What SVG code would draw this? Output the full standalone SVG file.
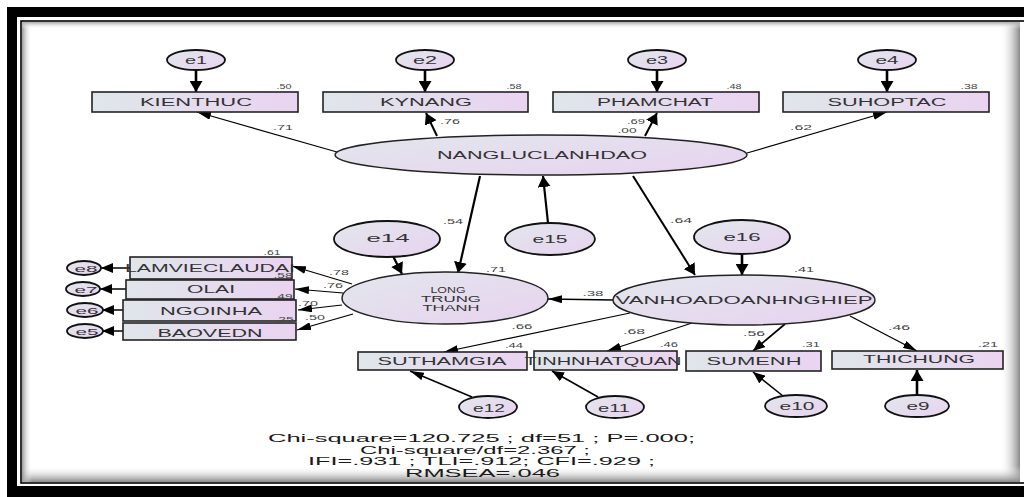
<svg xmlns="http://www.w3.org/2000/svg" width="1024" height="497" viewBox="0 0 1024 497">
<defs>
<linearGradient id="gb" x1="0" y1="0" x2="1" y2="0"><stop offset="0" stop-color="#dfe6ea"/><stop offset="1" stop-color="#ead3f1"/></linearGradient>
<linearGradient id="ge" x1="0" y1="0" x2="1" y2="1"><stop offset="0" stop-color="#e2e7ec"/><stop offset="1" stop-color="#e8d2f0"/></linearGradient>
<linearGradient id="shR" x1="0" y1="0" x2="1" y2="0"><stop offset="0" stop-color="#fff" stop-opacity="0"/><stop offset="1" stop-color="#888"/></linearGradient>
<linearGradient id="shB" x1="0" y1="0" x2="0" y2="1"><stop offset="0" stop-color="#fff" stop-opacity="0"/><stop offset="1" stop-color="#888"/></linearGradient>
<linearGradient id="shL" x1="0" y1="0" x2="1" y2="0"><stop offset="0" stop-color="#999"/><stop offset="1" stop-color="#fff" stop-opacity="0"/></linearGradient>
<linearGradient id="shT" x1="0" y1="0" x2="0" y2="1"><stop offset="0" stop-color="#aaa"/><stop offset="1" stop-color="#fff" stop-opacity="0"/></linearGradient>
<marker id="ah" viewBox="0 0 11 13" refX="11" refY="6.5" markerWidth="11" markerHeight="13" markerUnits="userSpaceOnUse" orient="auto"><path d="M0,0 L11,6.5 L0,13 z" fill="#000"/></marker>
<marker id="ahs" viewBox="0 0 14 8" refX="14" refY="4" markerWidth="14" markerHeight="8" markerUnits="userSpaceOnUse" orient="auto"><path d="M0,0 L14,4 L0,8 z" fill="#000"/></marker>
<marker id="ahm" viewBox="0 0 12 10" refX="12" refY="5" markerWidth="12" markerHeight="10" markerUnits="userSpaceOnUse" orient="auto"><path d="M0,0 L12,5 L0,10 z" fill="#000"/></marker>
<style>
.box{fill:url(#gb);stroke:#222;stroke-width:1.6}
.ell{fill:url(#ge);stroke:#222;stroke-width:1.5}
.err{fill:url(#ge);stroke:#111;stroke-width:1.8}
.t{font-family:"Liberation Sans",Arial,sans-serif;fill:#333;text-anchor:middle}
.lb{font-size:10px}
.el{font-size:10.5px}
.n{font-family:"Liberation Sans",Arial,sans-serif;fill:#444;font-size:8px;text-anchor:middle}
.st{font-family:"Liberation Sans",Arial,sans-serif;fill:#1a1a1a;font-size:11px;text-anchor:middle}
.c line{stroke:#000;fill:none}
</style>
</defs>
<g id="frame">
<rect x="7" y="7" width="1040" height="510" fill="#000"/>
<rect x="17" y="17" width="1030" height="469" fill="#fff"/>
<rect x="21" y="21" width="1010" height="462" fill="#fff" stroke="#000" stroke-width="1.6"/>
<rect x="1000" y="22" width="20" height="460" fill="url(#shR)"/>
<rect x="22" y="466" width="998" height="16" fill="url(#shB)"/>
<rect x="22" y="22" width="10" height="460" fill="url(#shL)"/>
<rect x="22" y="22" width="998" height="7" fill="url(#shT)"/>
</g>
<g class="c" id="connectors">
<line x1="196" y1="70" x2="196" y2="92" stroke-width="2.6" marker-end="url(#ah)"/>
<line x1="425" y1="70" x2="425" y2="92" stroke-width="2.6" marker-end="url(#ah)"/>
<line x1="657" y1="70" x2="657" y2="92" stroke-width="2.6" marker-end="url(#ah)"/>
<line x1="887" y1="70" x2="887" y2="92" stroke-width="2.6" marker-end="url(#ah)"/>
<line x1="337" y1="152" x2="197" y2="112" stroke-width="1.2" marker-end="url(#ahs)"/>
<line x1="437" y1="136" x2="426" y2="113" stroke-width="2" marker-end="url(#ah)"/>
<line x1="645" y1="136" x2="657" y2="113" stroke-width="2" marker-end="url(#ah)"/>
<line x1="747" y1="153" x2="887" y2="112" stroke-width="1.2" marker-end="url(#ahs)"/>
<line x1="480" y1="176" x2="458" y2="273" stroke-width="2.2" marker-end="url(#ah)"/>
<line x1="633" y1="176" x2="695" y2="275" stroke-width="2" marker-end="url(#ah)"/>
<line x1="548" y1="223" x2="543" y2="176" stroke-width="2.2" marker-end="url(#ah)"/>
<line x1="393" y1="256" x2="402" y2="274" stroke-width="2.2" marker-end="url(#ah)"/>
<line x1="742" y1="254" x2="742" y2="275" stroke-width="2.6" marker-end="url(#ah)"/>
<line x1="613" y1="300" x2="548" y2="299" stroke-width="1.3" marker-end="url(#ahs)"/>
<line x1="352" y1="284" x2="292" y2="266" stroke-width="1.2" marker-end="url(#ahs)"/>
<line x1="343" y1="293" x2="295" y2="289" stroke-width="1.2" marker-end="url(#ahs)"/>
<line x1="342" y1="305" x2="298" y2="310" stroke-width="1.2" marker-end="url(#ahs)"/>
<line x1="353" y1="314" x2="297" y2="330" stroke-width="1.2" marker-end="url(#ahs)"/>
<line x1="130" y1="268" x2="101" y2="268" stroke-width="1.5" marker-end="url(#ahm)"/>
<line x1="126" y1="289" x2="100" y2="289" stroke-width="1.5" marker-end="url(#ahm)"/>
<line x1="123" y1="310" x2="102" y2="310" stroke-width="1.5" marker-end="url(#ahm)"/>
<line x1="123" y1="331" x2="102" y2="331" stroke-width="1.5" marker-end="url(#ahm)"/>
<line x1="630" y1="313" x2="444" y2="352" stroke-width="1.2" marker-end="url(#ahs)"/>
<line x1="692" y1="323" x2="607" y2="351" stroke-width="1.2" marker-end="url(#ahs)"/>
<line x1="785" y1="324" x2="753" y2="351" stroke-width="1.7" marker-end="url(#ahm)"/>
<line x1="850" y1="316" x2="917" y2="351" stroke-width="1.4" marker-end="url(#ahs)"/>
<line x1="472" y1="397" x2="410" y2="371" stroke-width="1.4" marker-end="url(#ahs)"/>
<line x1="598" y1="397" x2="552" y2="371" stroke-width="1.5" marker-end="url(#ahm)"/>
<line x1="783" y1="396" x2="753" y2="372" stroke-width="1.6" marker-end="url(#ahm)"/>
<line x1="917" y1="395" x2="917" y2="370" stroke-width="2.6" marker-end="url(#ah)"/>
</g>
<g id="n-e1"><ellipse class="err" cx="196" cy="60" rx="29" ry="10"/><text class="t el" x="196" y="64" textLength="22" lengthAdjust="spacingAndGlyphs">e1</text></g>
<g id="n-e2"><ellipse class="err" cx="425" cy="60" rx="29" ry="10"/><text class="t el" x="425" y="64" textLength="24" lengthAdjust="spacingAndGlyphs">e2</text></g>
<g id="n-e3"><ellipse class="err" cx="657" cy="60" rx="29" ry="10"/><text class="t el" x="657" y="64" textLength="22" lengthAdjust="spacingAndGlyphs">e3</text></g>
<g id="n-e4"><ellipse class="err" cx="887" cy="60" rx="29" ry="10"/><text class="t el" x="887" y="64" textLength="23" lengthAdjust="spacingAndGlyphs">e4</text></g>
<g id="n-kienthuc"><rect class="box" x="92" y="92" width="206" height="20"/><text class="t lb" x="196" y="106" textLength="112" lengthAdjust="spacingAndGlyphs">KIENTHUC</text><text class="n" x="284" y="88.5" textLength="15" lengthAdjust="spacingAndGlyphs">.50</text></g>
<g id="n-kynang"><rect class="box" x="323" y="92" width="205" height="20"/><text class="t lb" x="426" y="106" textLength="92" lengthAdjust="spacingAndGlyphs">KYNANG</text><text class="n" x="514" y="88.5" textLength="15" lengthAdjust="spacingAndGlyphs">.58</text></g>
<g id="n-phamchat"><rect class="box" x="553" y="92" width="206" height="20"/><text class="t lb" x="655" y="106" textLength="116" lengthAdjust="spacingAndGlyphs">PHAMCHAT</text><text class="n" x="734" y="88.5" textLength="15" lengthAdjust="spacingAndGlyphs">.48</text></g>
<g id="n-suhoptac"><rect class="box" x="783" y="92" width="206" height="20"/><text class="t lb" x="887" y="106" textLength="119" lengthAdjust="spacingAndGlyphs">SUHOPTAC</text><text class="n" x="969" y="88.5" textLength="17" lengthAdjust="spacingAndGlyphs">.38</text></g>
<g id="n-nangluc"><ellipse class="ell" cx="541" cy="155" rx="206" ry="20"/><text class="t" style="font-size:11px" x="542" y="159" textLength="210" lengthAdjust="spacingAndGlyphs">NANGLUCLANHDAO</text><text class="n" x="627" y="132.7" textLength="19" lengthAdjust="spacingAndGlyphs">.00</text></g>
<g id="n-e14"><ellipse class="err" cx="387" cy="239" rx="53" ry="18"/><text class="t" style="font-size:11.5px" x="388" y="242" textLength="43" lengthAdjust="spacingAndGlyphs">e14</text></g>
<g id="n-e15"><ellipse class="err" cx="550" cy="239" rx="45" ry="16"/><text class="t" style="font-size:11.5px" x="550" y="243" textLength="35" lengthAdjust="spacingAndGlyphs">e15</text></g>
<g id="n-e16"><ellipse class="err" cx="742" cy="237" rx="48" ry="17"/><text class="t" style="font-size:11.5px" x="742" y="240.5" textLength="37" lengthAdjust="spacingAndGlyphs">e16</text></g>
<g id="n-long"><ellipse class="ell" cx="445" cy="298" rx="103" ry="26"/>
<text class="t" style="font-size:9px" x="448" y="292.5" textLength="35" lengthAdjust="spacingAndGlyphs">LONG</text>
<text class="t" style="font-size:9px" x="451" y="301.5" textLength="60" lengthAdjust="spacingAndGlyphs">TRUNG</text>
<text class="t" style="font-size:9px" x="451" y="310.5" textLength="57" lengthAdjust="spacingAndGlyphs">THANH</text>
<text class="n" x="496" y="271.7" textLength="20" lengthAdjust="spacingAndGlyphs">.71</text></g>
<g id="n-vanhoa"><ellipse class="ell" cx="744" cy="300" rx="131" ry="25"/><text class="t" style="font-size:11px" x="744" y="303.5" textLength="257" lengthAdjust="spacingAndGlyphs">VANHOADOANHNGHIEP</text><text class="n" x="804" y="272" textLength="20" lengthAdjust="spacingAndGlyphs">.41</text></g>
<g id="n-lamviec"><rect class="box" x="130" y="257" width="162" height="22"/><text class="t" style="font-size:11px" x="210" y="271.5" textLength="170" lengthAdjust="spacingAndGlyphs">LAMVIECLAUDAI</text><text class="n" x="272" y="255" textLength="17" lengthAdjust="spacingAndGlyphs">.61</text></g>
<g id="n-olai"><rect class="box" x="126" y="280" width="168" height="19"/><text class="t" style="font-size:11px" x="211" y="293" textLength="48" lengthAdjust="spacingAndGlyphs">OLAI</text><text class="n" x="283" y="278.3" textLength="19" lengthAdjust="spacingAndGlyphs">.58</text></g>
<g id="n-ngoinha"><rect class="box" x="123" y="300" width="173" height="21"/><text class="t" style="font-size:11px" x="211" y="315" textLength="102" lengthAdjust="spacingAndGlyphs">NGOINHA</text><text class="n" x="283" y="299.3" textLength="19" lengthAdjust="spacingAndGlyphs">.49</text></g>
<g id="n-baovedn"><rect class="box" x="123" y="323" width="173" height="17"/><text class="t" style="font-size:11px" x="210" y="336.5" textLength="105" lengthAdjust="spacingAndGlyphs">BAOVEDN</text><text class="n" x="284" y="321.5" textLength="19" lengthAdjust="spacingAndGlyphs">.25</text></g>
<g id="n-e8"><ellipse class="err" cx="84" cy="268" rx="17" ry="7"/><text class="t" style="font-size:9.5px" x="86" y="271.7" textLength="23" lengthAdjust="spacingAndGlyphs">e8</text></g>
<g id="n-e7"><ellipse class="err" cx="83" cy="289" rx="17" ry="7"/><text class="t" style="font-size:9.5px" x="86" y="293" textLength="23" lengthAdjust="spacingAndGlyphs">e7</text></g>
<g id="n-e6"><ellipse class="err" cx="85" cy="310" rx="18" ry="7"/><text class="t" style="font-size:9.5px" x="87" y="313.5" textLength="23" lengthAdjust="spacingAndGlyphs">e6</text></g>
<g id="n-e5"><ellipse class="err" cx="85" cy="331" rx="18" ry="7"/><text class="t" style="font-size:9.5px" x="87" y="334.7" textLength="23" lengthAdjust="spacingAndGlyphs">e5</text></g>
<g id="n-suthamgia"><rect class="box" x="358" y="352" width="169" height="18"/><text class="t" style="font-size:11px" x="442" y="365" textLength="129" lengthAdjust="spacingAndGlyphs">SUTHAMGIA</text><text class="n" x="514" y="348.3" textLength="18" lengthAdjust="spacingAndGlyphs">.44</text></g>
<g id="n-tinhnhatquan"><rect class="box" x="534" y="351" width="143" height="19"/><text class="t" style="font-size:11px" x="603" y="365" textLength="157" lengthAdjust="spacingAndGlyphs">TINHNHATQUAN</text><text class="n" x="669" y="346.7" textLength="18" lengthAdjust="spacingAndGlyphs">.46</text></g>
<g id="n-sumenh"><rect class="box" x="686" y="351" width="135" height="20"/><text class="t" style="font-size:11px" x="754" y="364.5" textLength="95" lengthAdjust="spacingAndGlyphs">SUMENH</text><text class="n" x="811" y="347.3" textLength="18" lengthAdjust="spacingAndGlyphs">.31</text></g>
<g id="n-thichung"><rect class="box" x="832" y="351" width="171" height="18"/><text class="t" style="font-size:11px" x="919" y="363" textLength="112" lengthAdjust="spacingAndGlyphs">THICHUNG</text><text class="n" x="988" y="346.7" textLength="20" lengthAdjust="spacingAndGlyphs">.21</text></g>
<g id="n-e12"><ellipse class="err" cx="488" cy="407" rx="29" ry="11"/><text class="t el" x="489" y="411.5" textLength="32" lengthAdjust="spacingAndGlyphs">e12</text></g>
<g id="n-e11"><ellipse class="err" cx="615" cy="407" rx="29" ry="11"/><text class="t el" x="614" y="411.5" textLength="32" lengthAdjust="spacingAndGlyphs">e11</text></g>
<g id="n-e10"><ellipse class="err" cx="796" cy="406" rx="31" ry="11"/><text class="t el" x="797" y="410" textLength="35" lengthAdjust="spacingAndGlyphs">e10</text></g>
<g id="n-e9"><ellipse class="err" cx="917" cy="406" rx="32" ry="11"/><text class="t el" x="918" y="410" textLength="23" lengthAdjust="spacingAndGlyphs">e9</text></g>
<g id="path-labels">
<text class="n" x="283" y="129.5" textLength="20" lengthAdjust="spacingAndGlyphs">.71</text>
<text class="n" x="450" y="124" textLength="20" lengthAdjust="spacingAndGlyphs">.76</text>
<text class="n" x="636" y="124" textLength="18" lengthAdjust="spacingAndGlyphs">.69</text>
<text class="n" x="801" y="129.5" textLength="22" lengthAdjust="spacingAndGlyphs">.62</text>
<text class="n" x="453" y="224" textLength="20" lengthAdjust="spacingAndGlyphs">.54</text>
<text class="n" x="681" y="223.3" textLength="22" lengthAdjust="spacingAndGlyphs">.64</text>
<text class="n" x="593" y="296" textLength="21" lengthAdjust="spacingAndGlyphs">.38</text>
<text class="n" x="339" y="274.5" textLength="20" lengthAdjust="spacingAndGlyphs">.78</text>
<text class="n" x="333" y="288" textLength="20" lengthAdjust="spacingAndGlyphs">.76</text>
<text class="n" x="308" y="306" textLength="20" lengthAdjust="spacingAndGlyphs">.70</text>
<text class="n" x="315" y="320" textLength="20" lengthAdjust="spacingAndGlyphs">.50</text>
<text class="n" x="522" y="329.3" textLength="21" lengthAdjust="spacingAndGlyphs">.66</text>
<text class="n" x="634" y="334.3" textLength="22" lengthAdjust="spacingAndGlyphs">.68</text>
<text class="n" x="754" y="336" textLength="22" lengthAdjust="spacingAndGlyphs">.56</text>
<text class="n" x="899" y="330" textLength="22" lengthAdjust="spacingAndGlyphs">.46</text>
</g>
<g id="fit-stats">
<text class="st" x="481.5" y="442" textLength="427" lengthAdjust="spacingAndGlyphs">Chi-square=120.725 ; df=51 ; P=.000;</text>
<text class="st" x="475" y="453.5" textLength="230" lengthAdjust="spacingAndGlyphs">Chi-square/df=2.367 ;</text>
<text class="st" x="481.5" y="465" textLength="347" lengthAdjust="spacingAndGlyphs">IFI=.931 ; TLI=.912; CFI=.929 ;</text>
<text class="st" x="482.5" y="476.5" textLength="155" lengthAdjust="spacingAndGlyphs">RMSEA=.046</text>
</g>
</svg>
